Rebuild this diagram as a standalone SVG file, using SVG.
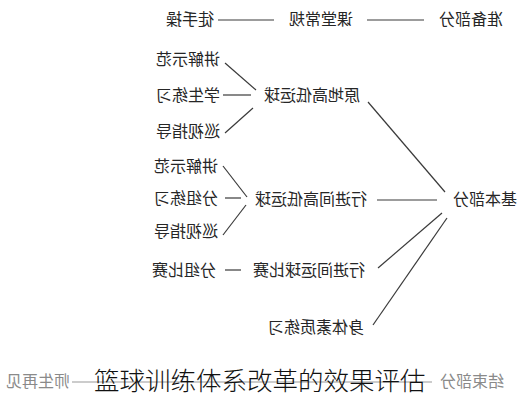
<svg xmlns="http://www.w3.org/2000/svg" width="521" height="400" viewBox="0 0 521 400">
<style>
  .t { font-family: "Noto Sans CJK SC", "Noto Sans", sans-serif; font-size: 16px; fill: #262626; text-anchor: middle; }
  .f { fill: #8a8a8a; }
  .c line { stroke: #3a3a3a; stroke-width: 1.2; }
  .cap { font-family: "Noto Sans CJK SC", "Noto Sans", sans-serif; font-size: 25.5px; font-weight: 300; fill: #111; }
</style>
<rect width="521" height="400" fill="#fff"/>
<g id="connectors" class="c">
  <line x1="218" y1="20" x2="274" y2="20"/>
  <line x1="367" y1="20" x2="424" y2="20"/>
  <line x1="225" y1="63" x2="256" y2="90"/>
  <line x1="223" y1="95" x2="251" y2="95"/>
  <line x1="225" y1="133" x2="253" y2="108"/>
  <line x1="368" y1="102" x2="445" y2="192"/>
  <line x1="223" y1="166" x2="247" y2="197"/>
  <line x1="225" y1="198" x2="241" y2="198"/>
  <line x1="223" y1="235" x2="246" y2="205"/>
  <line x1="377" y1="200" x2="437" y2="200"/>
  <line x1="225" y1="270" x2="241" y2="270"/>
  <line x1="378" y1="268" x2="442" y2="213"/>
  <line x1="373" y1="325" x2="447" y2="218"/>
  <line x1="72" y1="382" x2="432" y2="382" style="stroke:#9a9a9a"/>
</g>
<g id="n-zhunbei"><text class="t" transform="translate(471,25) scale(-1,1)">准备部分</text></g>
<g id="n-ketang"><text class="t" transform="translate(321,25) scale(-1,1)">课堂常规</text></g>
<g id="n-tushou"><text class="t" transform="translate(190,25) scale(-1,1)">徒手操</text></g>
<g id="n-jiben"><text class="t" transform="translate(485,205) scale(-1,1)">基本部分</text></g>
<g id="n-yuandi"><text class="t" transform="translate(312,101) scale(-1,1)">原地高低运球</text></g>
<g id="n-jiangjie1"><text class="t" transform="translate(188,65) scale(-1,1)">讲解示范</text></g>
<g id="n-xuesheng"><text class="t" transform="translate(188,101) scale(-1,1)">学生练习</text></g>
<g id="n-xunshi1"><text class="t" transform="translate(188,137) scale(-1,1)">巡视指导</text></g>
<g id="n-xingjin"><text class="t" transform="translate(311,205) scale(-1,1)">行进间高低运球</text></g>
<g id="n-jiangjie2"><text class="t" transform="translate(186,172) scale(-1,1)">讲解示范</text></g>
<g id="n-fenzu"><text class="t" transform="translate(186,204) scale(-1,1)">分组练习</text></g>
<g id="n-xunshi2"><text class="t" transform="translate(186,237) scale(-1,1)">巡视指导</text></g>
<g id="n-bisai"><text class="t" transform="translate(309,276) scale(-1,1)">行进间运球比赛</text></g>
<g id="n-fenzubisai"><text class="t" transform="translate(184,276) scale(-1,1)">分组比赛</text></g>
<g id="n-shenti"><text class="t" transform="translate(316,333) scale(-1,1)">身体素质练习</text></g>
<g id="n-jieshu"><text class="t f" transform="translate(472,387) scale(-1,1)">结束部分</text></g>
<g id="n-shisheng"><text class="t f" transform="translate(38,387) scale(-1,1)">师生再见</text></g>
<g id="caption"><text class="cap" x="94" y="390">篮球训练体系改革的效果评估</text></g>
</svg>
